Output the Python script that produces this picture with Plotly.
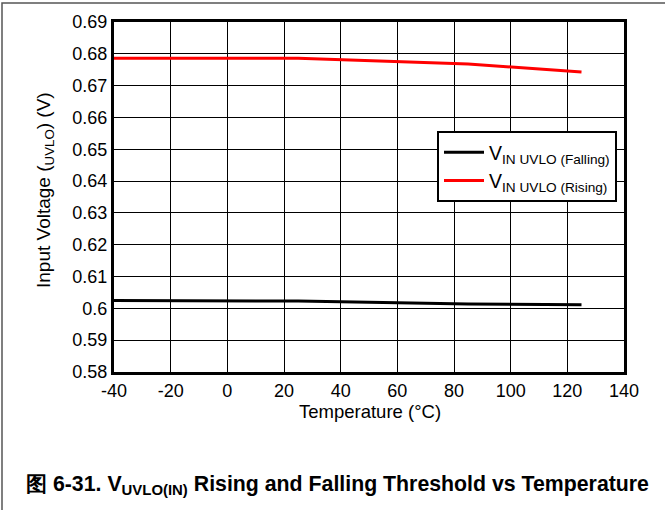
import plotly.graph_objects as go

temps = [-40, 25, 85, 125]
v_falling = [0.6025, 0.6023, 0.6014, 0.6011]
v_rising = [0.6786, 0.6786, 0.6768, 0.6743]

x_ticks = [-40, -20, 0, 20, 40, 60, 80, 100, 120, 140]
x_ticklabels = ["-40", "-20", "0", "20", "40", "60", "80", "100", "120", "140"]
y_ticks = [0.58, 0.59, 0.60, 0.61, 0.62, 0.63, 0.64, 0.65, 0.66, 0.67, 0.68, 0.69]
y_ticklabels = ["0.58", "0.59", "0.6", "0.61", "0.62", "0.63", "0.64", "0.65", "0.66", "0.67", "0.68", "0.69"]

FONT = "Liberation Sans, Arial, sans-serif"
W, H = 665, 510
L, R, T, B = 114, 41, 22, 138
pw, ph = W - L - R, H - T - B

def px(x):
    return (x - L) / pw

def py(y):
    return (H - B - y) / ph

fig = go.Figure()
fig.add_trace(go.Scatter(x=temps, y=v_falling, mode="lines",
                         line=dict(color="black", width=3),
                         name="V<sub>IN UVLO (Falling)</sub>"))
fig.add_trace(go.Scatter(x=temps, y=v_rising, mode="lines",
                         line=dict(color="#ff0000", width=3),
                         name="V<sub>IN UVLO (Rising)</sub>"))

fig.update_layout(
    width=W, height=H,
    margin=dict(l=L, r=R, t=T, b=B),
    paper_bgcolor="white", plot_bgcolor="white",
    font=dict(family=FONT, size=18, color="black"),
    showlegend=True,
    legend=dict(x=px(437), y=py(131), xanchor="left", yanchor="top",
                bordercolor="black", borderwidth=2, bgcolor="white",
                font=dict(size=19.5), tracegroupgap=0,
                itemwidth=40),
    xaxis=dict(range=[-40, 140], tickvals=x_ticks, ticktext=x_ticklabels,
               showgrid=True, gridcolor="black", gridwidth=1,
               showline=True, linecolor="black", linewidth=3, mirror=True,
               ticks="", zeroline=False, tickfont=dict(size=18)),
    yaxis=dict(range=[0.58, 0.69], tickvals=y_ticks, ticktext=y_ticklabels,
               showgrid=True, gridcolor="black", gridwidth=1,
               showline=True, linecolor="black", linewidth=3, mirror=True,
               ticks="", zeroline=False, tickfont=dict(size=18)),
    shapes=[
        dict(type="rect", xref="paper", yref="paper",
             x0=px(2), x1=px(668), y0=py(514), y1=py(3),
             line=dict(color="#555555", width=1.5), layer="below"),
    ],
    annotations=[
        dict(text="Temperature (°C)", xref="paper", yref="paper",
             x=px(370), y=py(411), xanchor="center", yanchor="middle",
             showarrow=False, font=dict(size=18.5)),
        dict(text="Input Voltage (<sub>UVLO</sub>) (V)", xref="paper", yref="paper",
             x=px(45), y=py(190), xanchor="center", yanchor="middle",
             textangle=-90, showarrow=False, font=dict(size=19)),
        dict(text="<b>图 6-31. V<sub>UVLO(IN)</sub> Rising and Falling Threshold vs Temperature</b>",
             xref="paper", yref="paper", x=px(24), y=py(485),
             xanchor="left", yanchor="middle", showarrow=False,
             font=dict(size=21.3)),
    ],
)

fig.write_html("out.html", config={"displayModeBar": False},
               post_script="document.body.style.margin='0';document.body.style.overflow='hidden';")
